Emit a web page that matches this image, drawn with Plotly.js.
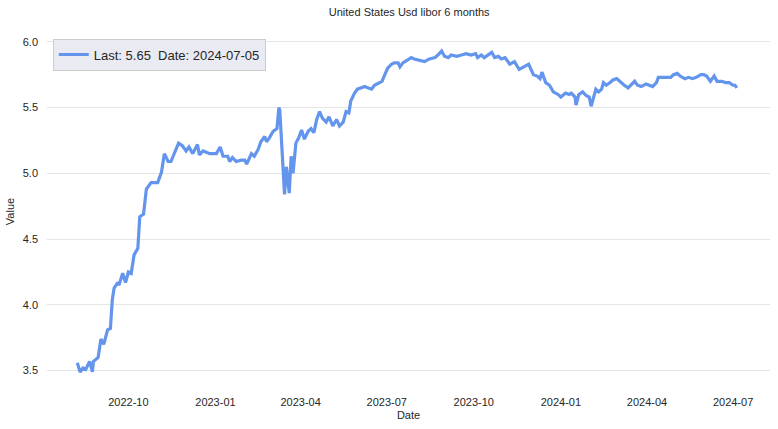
<!DOCTYPE html>
<html>
<head>
<meta charset="utf-8">
<script src="https://cdn.plot.ly/plotly-3.0.1.min.js"></script>
<style>html,body{margin:0;padding:0;background:#fff}#chart{width:778px;height:429px}</style>
</head>
<body>
<div id="chart"></div>
<script>
const dates = [
"2022-08-08","2022-08-11","2022-08-14","2022-08-17","2022-08-21","2022-08-24","2022-08-25","2022-08-30",
"2022-09-02","2022-09-05","2022-09-09","2022-09-12","2022-09-14","2022-09-16","2022-09-20","2022-09-21",
"2022-09-25","2022-09-28","2022-10-01","2022-10-04","2022-10-07","2022-10-11","2022-10-13","2022-10-17",
"2022-10-20","2022-10-25","2022-11-01","2022-11-05","2022-11-08","2022-11-12","2022-11-15","2022-11-20",
"2022-11-23","2022-11-27","2022-12-01","2022-12-04","2022-12-08","2022-12-13","2022-12-15","2022-12-19",
"2022-12-26","2023-01-02","2023-01-06","2023-01-09","2023-01-14","2023-01-16","2023-01-19","2023-01-23",
"2023-01-28","2023-02-01","2023-02-03","2023-02-08","2023-02-11","2023-02-15","2023-02-18","2023-02-22",
"2023-02-24","2023-02-27","2023-03-03","2023-03-07","2023-03-09","2023-03-10","2023-03-13","2023-03-15",
"2023-03-17","2023-03-20","2023-03-22","2023-03-24","2023-03-27","2023-03-30","2023-04-02","2023-04-05",
"2023-04-09","2023-04-12","2023-04-15","2023-04-18","2023-04-21","2023-04-24","2023-04-28","2023-05-01",
"2023-05-05","2023-05-09","2023-05-12","2023-05-16","2023-05-19","2023-05-22","2023-05-24","2023-05-28",
"2023-05-31","2023-06-04","2023-06-08","2023-06-11","2023-06-15","2023-06-18","2023-06-23","2023-06-26",
"2023-06-29","2023-07-02","2023-07-06","2023-07-09","2023-07-13","2023-07-15","2023-07-18","2023-07-23",
"2023-07-27","2023-07-30","2023-08-05","2023-08-10","2023-08-15","2023-08-21","2023-08-24","2023-08-28",
"2023-08-31","2023-09-04","2023-09-07","2023-09-13","2023-09-18","2023-09-23","2023-09-28","2023-10-03",
"2023-10-05","2023-10-09","2023-10-12","2023-10-16","2023-10-20","2023-10-23","2023-10-27","2023-10-30",
"2023-11-03","2023-11-08","2023-11-13","2023-11-18","2023-11-24","2023-11-28","2023-12-03","2023-12-07",
"2023-12-10","2023-12-12","2023-12-16","2023-12-20","2023-12-24","2023-12-29","2024-01-01","2024-01-06",
"2024-01-10","2024-01-12","2024-01-16","2024-01-17","2024-01-20","2024-01-24","2024-01-28","2024-01-31",
"2024-02-02","2024-02-05","2024-02-07","2024-02-10","2024-02-13","2024-02-15","2024-02-18","2024-02-22",
"2024-02-25","2024-02-29","2024-03-03","2024-03-08","2024-03-12","2024-03-16","2024-03-19","2024-03-22",
"2024-03-26","2024-03-31","2024-04-03","2024-04-07","2024-04-11","2024-04-13","2024-04-16","2024-04-22",
"2024-04-26","2024-04-29","2024-05-03","2024-05-06","2024-05-11","2024-05-15","2024-05-19","2024-05-23",
"2024-05-28","2024-05-31","2024-06-03","2024-06-07","2024-06-11","2024-06-14","2024-06-19","2024-06-23",
"2024-06-27","2024-07-01","2024-07-03","2024-07-05"
];
const values = [
3.56,3.49,3.52,3.51,3.57,3.49,3.57,3.60,
3.74,3.70,3.81,3.82,4.04,4.13,4.17,4.15,
4.24,4.17,4.25,4.24,4.38,4.43,4.67,4.69,
4.88,4.93,4.93,5.01,5.15,5.09,5.09,5.17,
5.23,5.21,5.17,5.20,5.15,5.22,5.14,5.17,
5.15,5.15,5.20,5.13,5.13,5.09,5.12,5.09,
5.10,5.10,5.07,5.15,5.13,5.18,5.24,5.28,
5.24,5.27,5.32,5.34,5.50,5.48,5.09,4.84,
5.05,4.85,5.13,5.00,5.23,5.27,5.33,5.26,
5.32,5.34,5.31,5.41,5.47,5.42,5.39,5.43,
5.36,5.41,5.36,5.39,5.47,5.46,5.55,5.61,
5.64,5.65,5.66,5.65,5.64,5.67,5.69,5.70,
5.75,5.80,5.83,5.84,5.84,5.81,5.84,5.86,
5.88,5.87,5.86,5.85,5.87,5.88,5.90,5.93,
5.89,5.88,5.90,5.89,5.90,5.91,5.90,5.91,
5.88,5.90,5.88,5.90,5.92,5.88,5.89,5.87,
5.88,5.83,5.85,5.79,5.81,5.83,5.75,5.74,
5.72,5.77,5.69,5.67,5.62,5.60,5.58,5.61,
5.60,5.61,5.58,5.52,5.60,5.62,5.59,5.58,
5.51,5.58,5.64,5.62,5.64,5.69,5.67,5.69,
5.71,5.72,5.70,5.67,5.65,5.68,5.70,5.67,
5.66,5.68,5.67,5.66,5.69,5.73,5.73,5.73,
5.73,5.75,5.76,5.74,5.72,5.73,5.72,5.73,
5.75,5.75,5.74,5.70,5.74,5.70,5.70,5.69,
5.69,5.67,5.67,5.65
];
const xTickVals = ["2022-10-01","2023-01-01","2023-04-01","2023-07-01","2023-10-01","2024-01-01","2024-04-01","2024-07-01"];
const xTickText = ["2022-10","2023-01","2023-04","2023-07","2023-10","2024-01","2024-04","2024-07"];
const yTickVals = [3.5,4.0,4.5,5.0,5.5,6.0];
const yTickText = ["3.5","4.0","4.5","5.0","5.5","6.0"];
const titleText = "United States Usd libor 6 months";

const lastVal = values[values.length-1].toFixed(2);
const lastDate = dates[dates.length-1];
const FONT = "Liberation Sans, Arial, sans-serif";

const trace = {
  x: dates, y: values, type: "scatter", mode: "lines",
  name: "Last: " + lastVal + "\u00a0\u00a0Date: " + lastDate,
  line: {color: "#6495ED", width: 3.2},
  showlegend: true
};

const layout = {
  width: 778, height: 429,
  margin: {l: 47, r: 8, t: 35, b: 41},
  paper_bgcolor: "#fff", plot_bgcolor: "#fff",
  font: {family: FONT, size: 11, color: "#262626"},
  title: {text: titleText, x: 0.526, xanchor: "center", y: 0.972, yanchor: "middle", font: {family: FONT, size: 11, color: "#262626"}},
  xaxis: {
    range: ["2022-07-07", "2024-08-09"], type: "date",
    tickvals: xTickVals, ticktext: xTickText,
    showgrid: false, zeroline: false, showline: false, ticks: "",
    ticklabelstandoff: 6,
    tickfont: {family: FONT, size: 11, color: "#262626"},
    title: {text: "Date", font: {family: FONT, size: 11, color: "#262626"}, standoff: 4}
  },
  yaxis: {
    range: [3.368, 6.052],
    tickvals: yTickVals, ticktext: yTickText,
    showgrid: true, gridcolor: "#e5e5e5", gridwidth: 1, zeroline: false, showline: false, ticks: "",
    ticklabelstandoff: 8,
    tickfont: {family: FONT, size: 11, color: "#262626"},
    title: {text: "Value", font: {family: FONT, size: 11, color: "#262626"}, standoff: 5}
  },
  legend: {
    x: 0.008, y: 0.99, xanchor: "left", yanchor: "top",
    bgcolor: "#eaeaf2", bordercolor: "#cccccc", borderwidth: 1,
    font: {family: FONT, size: 13, color: "#262626"},
    itemwidth: 30
  },
  showlegend: true
};

Plotly.newPlot("chart", [trace], layout, {displayModeBar: false, staticPlot: true});
</script>
</body>
</html>
